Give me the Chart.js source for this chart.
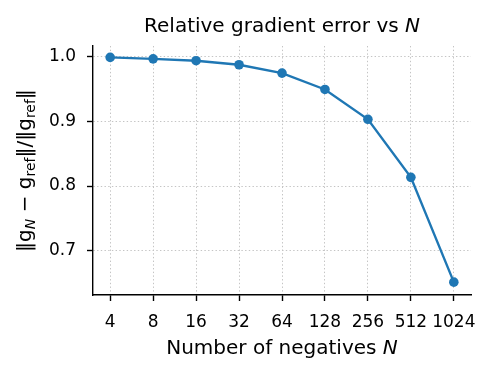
<!DOCTYPE html>
<html>
<head>
<meta charset="utf-8">
<script src="https://cdn.jsdelivr.net/npm/chart.js@4.4.0/dist/chart.umd.min.js"></script>
<style>
  html, body { margin: 0; padding: 0; background: #fff; }
  #wrap { width: 493px; height: 375px; }
</style>
</head>
<body>
<div id="wrap"><canvas id="chart" width="493" height="375"></canvas></div>
<script>
// valores
const nLabels = ['4', '8', '16', '32', '64', '128', '256', '512', '1024'];
const relError = [0.9984, 0.9962, 0.9933, 0.9871, 0.9742, 0.9490, 0.9030, 0.8134, 0.6518];
const yTicks = [0.7, 0.8, 0.9, 1.0];

const FONT = '"DejaVu Sans", "Liberation Sans", sans-serif';
const BLUE = '#1f77b4';

// dibuja segmentos de texto con distintas fuentes (cursiva, subindices)
function drawRich(ctx, segs, cx, cy){
  let total = 0;
  segs.forEach(s => { ctx.font = s.font; total += ctx.measureText(s.text).width; });
  let x = cx - total / 2;
  ctx.textAlign = 'left';
  ctx.textBaseline = 'alphabetic';
  segs.forEach(s => {
    ctx.font = s.font;
    ctx.fillText(s.text, x, cy + (s.dy || 0));
    x += ctx.measureText(s.text).width;
  });
}

const labelsPlugin = {
  id: 'labelsPlugin',
  afterDraw(chart){
    const ctx = chart.ctx;
    const a = chart.chartArea;
    const cx = (a.left + a.right) / 2;
    ctx.save();
    ctx.fillStyle = '#000';

    // titulo
    drawRich(ctx, [
      { text: 'Relative gradient error vs ', font: '20px ' + FONT },
      { text: 'N', font: 'italic 20px ' + FONT }
    ], cx, 32);

    // etiqueta eje x
    drawRich(ctx, [
      { text: 'Number of negatives ', font: '20px ' + FONT },
      { text: 'N', font: 'italic 20px ' + FONT }
    ], cx, 354);

    // etiqueta eje y (rotada)
    ctx.translate(31, (a.top + a.bottom) / 2);
    ctx.rotate(-Math.PI / 2);
    const big = '20px ' + FONT, small = '14px ' + FONT, smallIt = 'italic 14px ' + FONT;
    drawRich(ctx, [
      { text: '\u2016g', font: big },
      { text: 'N', font: smallIt, dy: 4 },
      { text: ' \u2212 g', font: big },
      { text: 'ref', font: small, dy: 4 },
      { text: '\u2016/\u2016g', font: big },
      { text: 'ref', font: small, dy: 4 },
      { text: '\u2016', font: big }
    ], 0, 0);
    ctx.restore();
  }
};

const ctx = document.getElementById('chart');
new Chart(ctx, {
  type: 'line',
  data: {
    datasets: [{
      data: relError.map((v, i) => ({ x: i, y: v })),
      borderColor: BLUE,
      backgroundColor: BLUE,
      borderWidth: 2.4,
      pointRadius: 4.8,
      pointBorderWidth: 0,
      pointBackgroundColor: BLUE,
      tension: 0,
      fill: false
    }]
  },
  options: {
    responsive: false,
    animation: false,
    devicePixelRatio: 1,
    layout: { padding: { top: 46, right: 22, left: 0, bottom: 0 } },
    plugins: { legend: { display: false }, tooltip: { enabled: false } },
    scales: {
      x: {
        type: 'linear',
        min: -0.4,
        max: 8.4,
        afterBuildTicks: (s) => { s.ticks = nLabels.map((_, i) => ({ value: i })); },
        afterFit: (s) => { s.height = 80; },
        ticks: {
          autoSkip: false,
          maxRotation: 0,
          padding: 11,
          color: '#000',
          font: { family: FONT, size: 17 },
          callback: (v) => nLabels[v] ?? ''
        },
        grid: {
          color: '#c4c4c4',
          lineWidth: 1,
          tickLength: 6,
          tickColor: '#000',
          tickWidth: 1.4,
          tickBorderDash: []
        },
        border: { display: true, color: '#000', width: 1.4, dash: [1.4, 2.3] }
      },
      y: {
        type: 'linear',
        min: 0.632,
        max: 1.016,
        afterBuildTicks: (s) => { s.ticks = yTicks.map(v => ({ value: v })); },
        afterFit: (s) => { s.width = 93; },
        ticks: {
          padding: 11,
          color: '#000',
          font: { family: FONT, size: 17 },
          callback: (v) => Number(v).toFixed(1)
        },
        grid: {
          color: '#c4c4c4',
          lineWidth: 1,
          tickLength: 6,
          tickColor: '#000',
          tickWidth: 1.4,
          tickBorderDash: []
        },
        border: { display: true, color: '#000', width: 1.4, dash: [1.4, 2.3] }
      }
    }
  },
  plugins: [labelsPlugin]
});
</script>
</body>
</html>
